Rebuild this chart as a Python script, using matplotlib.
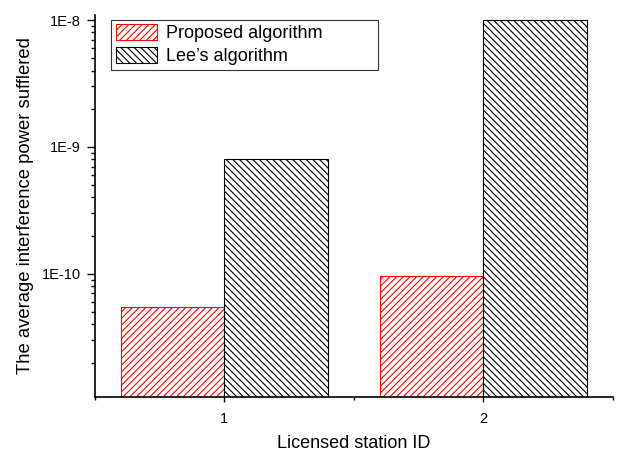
import numpy as np
import matplotlib
matplotlib.use("Agg")
import matplotlib.pyplot as plt
from matplotlib.ticker import FixedLocator, MultipleLocator, LogLocator, FuncFormatter, NullFormatter

plt.rcParams['font.family'] = ['Liberation Sans', 'DejaVu Sans']
plt.rcParams['hatch.linewidth'] = 0.8

# data
stations = [1, 2]
station_labels = ['1', '2']
proposed = [5.43e-11, 9.65e-11]
lee = [8.0e-10, 1.0e-8]
series_names = ['Proposed algorithm', "Lee\u2019s algorithm"]

fig = plt.figure(figsize=(6.24, 4.51), dpi=100)
ax = fig.add_axes([0.152, 0.1197, 0.830, 0.8470])

x = np.array(stations, dtype=float)
w = 0.4
ax.bar(x - w, proposed, width=w, align='edge', color='white',
       edgecolor='red', hatch='/////', linewidth=0.8, label=series_names[0])
ax.bar(x, lee, width=w, align='edge', color='white',
       edgecolor='black', hatch='\\\\\\\\\\', linewidth=0.8, label=series_names[1])

ax.set_yscale('log')
ax.set_ylim(1.07e-11, 1.095e-8)
ax.set_xlim(0.5, 2.5)

# only left and bottom spines, like the original
ax.spines['top'].set_visible(False)
ax.spines['right'].set_visible(False)
ax.spines['left'].set_linewidth(1.2)
ax.spines['bottom'].set_linewidth(1.2)

ax.xaxis.set_major_locator(FixedLocator(stations))
ax.set_xticklabels(station_labels)
ax.xaxis.set_minor_locator(MultipleLocator(0.5))
ax.yaxis.set_major_locator(LogLocator(base=10, numticks=10))
ax.yaxis.set_minor_locator(LogLocator(base=10, subs=np.arange(2, 10), numticks=20))
ax.yaxis.set_major_formatter(FuncFormatter(lambda v, p: '1E%d' % round(np.log10(v))))
ax.yaxis.set_minor_formatter(NullFormatter())

ax.tick_params(axis='y', which='major', direction='out', length=5.8, width=1.0,
               labelsize=10.5, pad=4)
ax.tick_params(axis='y', which='minor', direction='out', length=3.0, width=1.0)
ax.tick_params(axis='x', which='major', direction='out', length=3.6, width=1.0,
               labelsize=10.5, pad=7)
ax.tick_params(axis='x', which='minor', direction='out', length=2.4, width=1.0)

ax.set_xlabel('Licensed station ID', fontsize=13, labelpad=7)
ax.set_ylabel('The average interference power sufflered', fontsize=13.3, labelpad=6)

leg = ax.legend(loc='upper left', bbox_to_anchor=(0.032, 0.862, 0.514, 0.125),
                mode='expand', borderaxespad=0, fontsize=13, frameon=True,
                fancybox=False, edgecolor='black', handlelength=2.3,
                handleheight=0.95, handletextpad=0.5, labelspacing=0.25,
                borderpad=0.25)
leg.get_frame().set_linewidth(0.8)

fig.savefig('out.png', dpi=100)
